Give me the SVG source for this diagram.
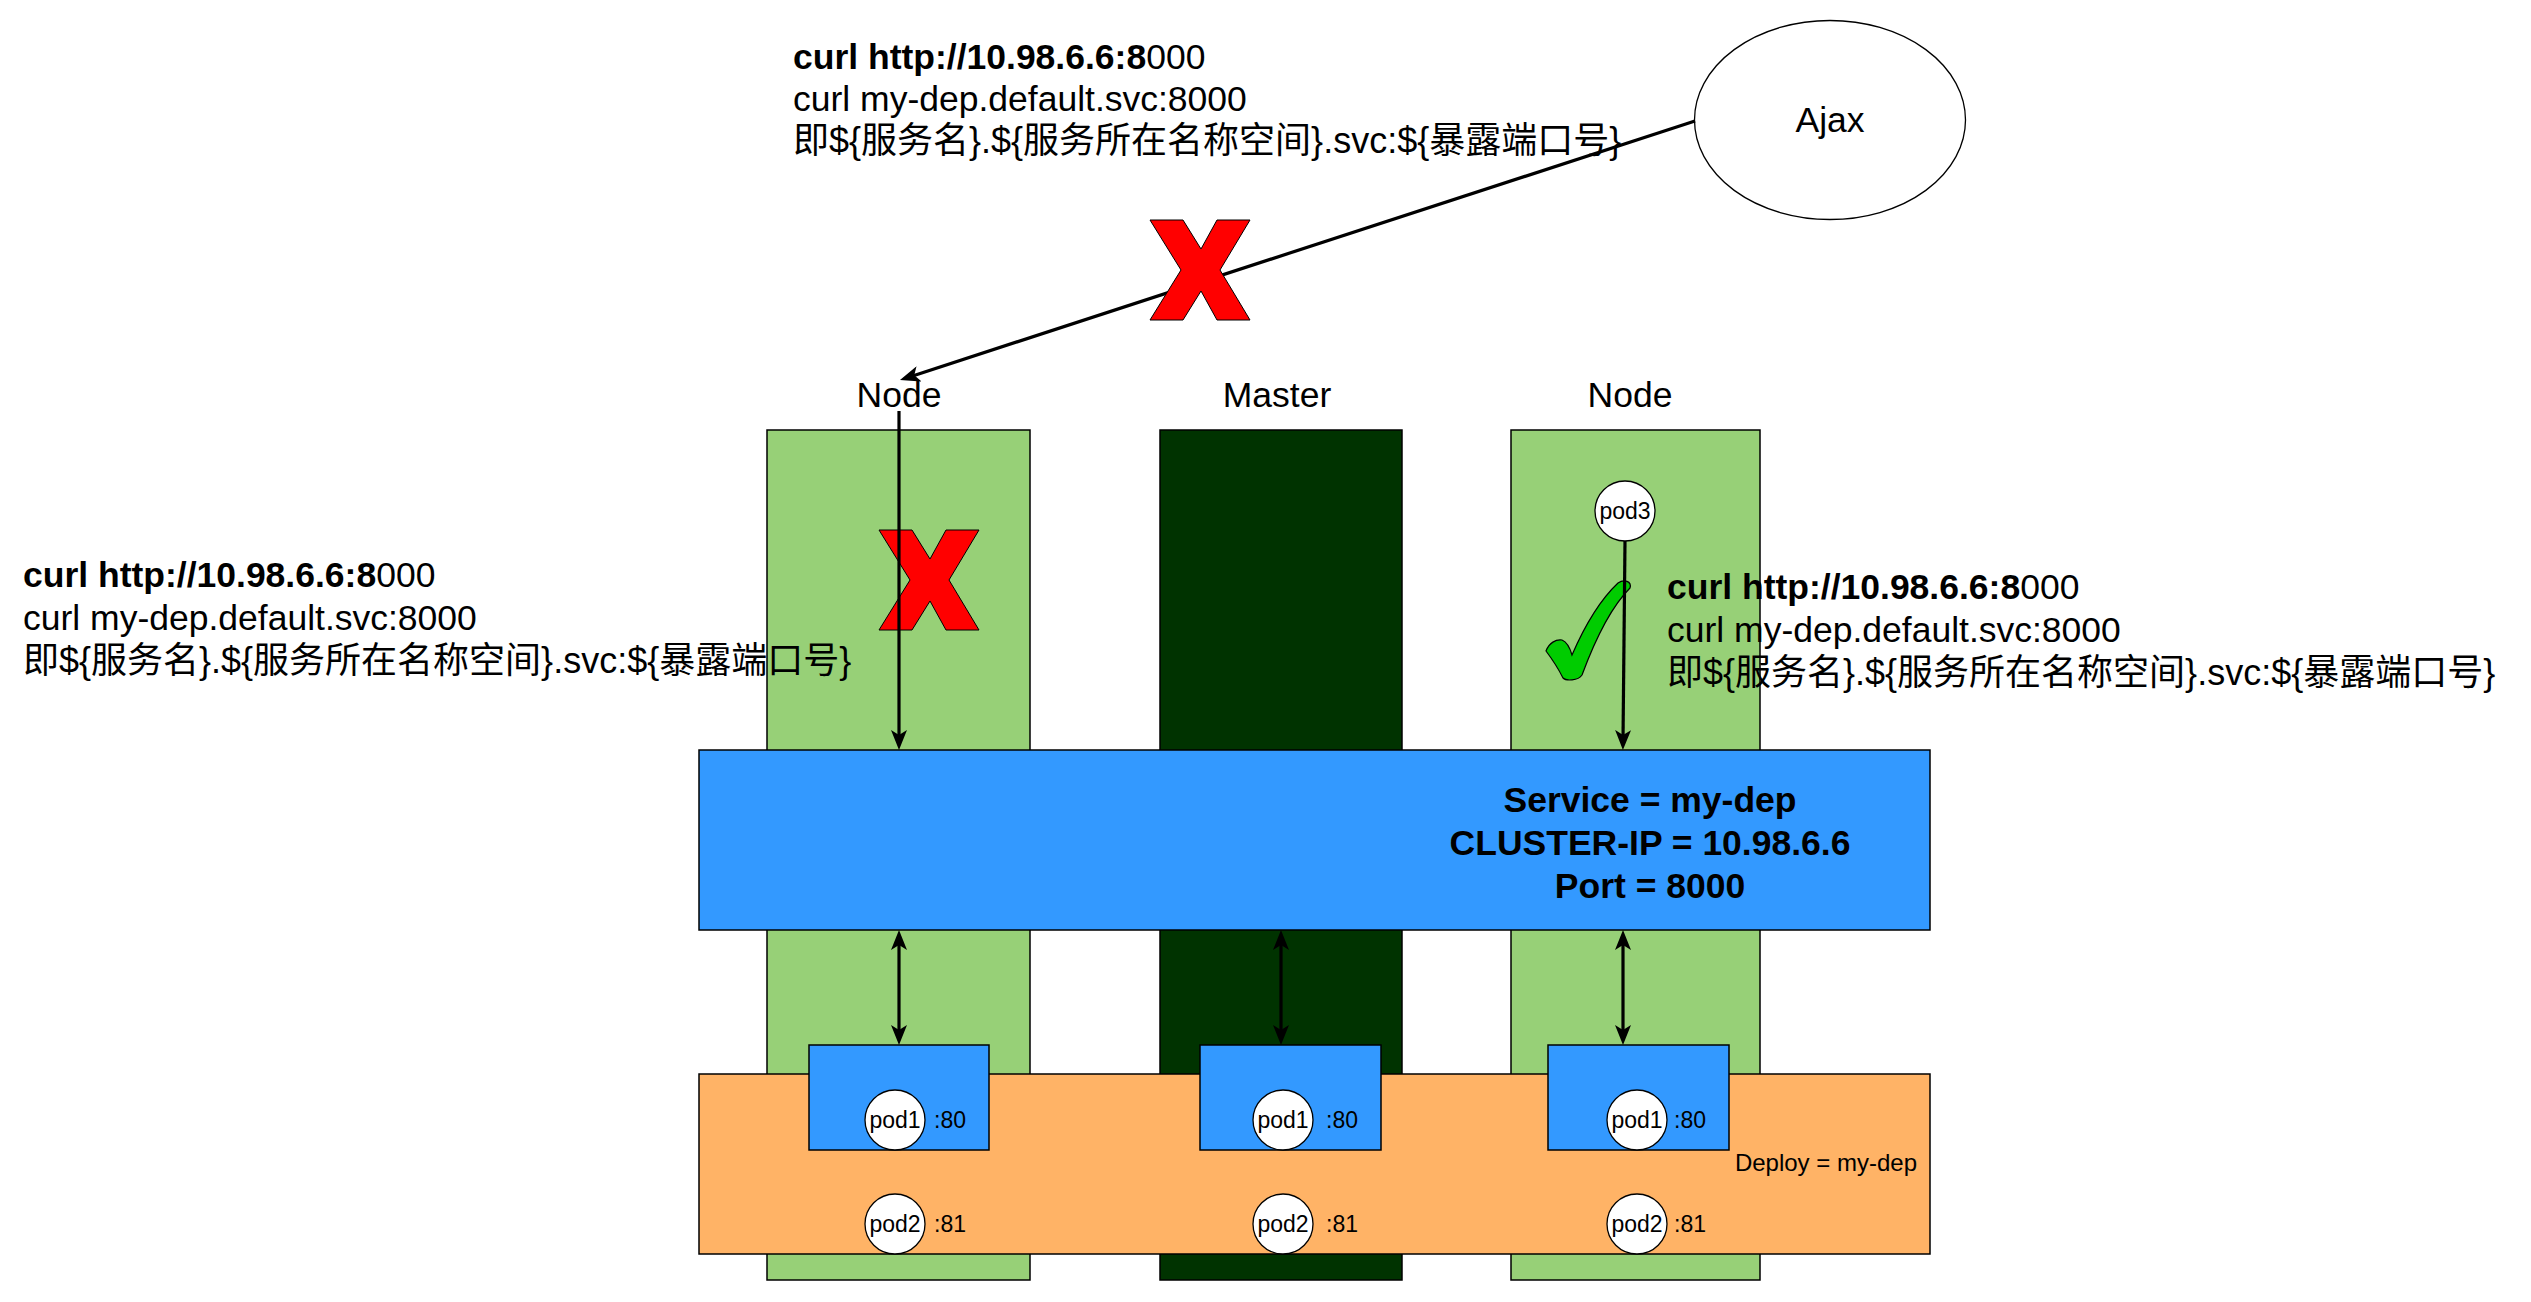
<svg xmlns="http://www.w3.org/2000/svg" width="2531" height="1302" viewBox="0 0 2531 1302">
<style>
text{font-family:"Liberation Sans","Noto Sans CJK SC",Arial,sans-serif;fill:#000}
.t{font-size:35.5px}
.cjk{font-size:36px}
.b{font-weight:bold}
.s{font-size:23px}
.col{stroke:#000;stroke-width:1.5}
.green{fill:#97D077}
.master{fill:#003300}
.blue{fill:#3399FF;stroke:#000;stroke-width:1.5}
.pod{fill:#fff;stroke:#000;stroke-width:1.3}
.ln{stroke:#000;stroke-width:3.2;fill:none}
.xmark{fill:#FF0000;stroke:#000;stroke-width:1}
</style>
<defs>
<marker id="arr" markerUnits="userSpaceOnUse" markerWidth="22" markerHeight="16" viewBox="0 0 22 16" refX="10" refY="8" orient="auto-start-reverse">
<path d="M0,0 L20,8 L0,16 L5,8 Z" fill="#000"/>
</marker>
<path id="xshape" d="M0,0 L33,0 L51,29 L67,0 L100,0 L70,50 L100,100 L67,100 L51,71 L33,100 L0,100 L31,50 Z"/>
</defs>
<rect width="2531" height="1302" fill="#fff"/>

<g id="node-left"><rect class="col green" x="767" y="430" width="263" height="850"/><text class="t" x="899" y="407" text-anchor="middle">Node</text></g>
<g id="master"><rect class="col master" x="1160" y="430" width="242" height="850"/><text class="t" x="1277" y="407" text-anchor="middle">Master</text></g>
<g id="node-right"><rect class="col green" x="1511" y="430" width="249" height="850"/><text class="t" x="1630" y="407" text-anchor="middle">Node</text></g>

<g id="service"><rect class="blue" x="699" y="750" width="1231" height="180"/>
<text class="t b" x="1650" y="812" text-anchor="middle">Service = my-dep</text>
<text class="t b" x="1650" y="855" text-anchor="middle">CLUSTER-IP = 10.98.6.6</text>
<text class="t b" x="1650" y="898" text-anchor="middle">Port = 8000</text></g>

<g id="deploy"><rect x="699" y="1074" width="1231" height="180" fill="#FFB366" stroke="#000" stroke-width="1.5"/>
<text x="1917" y="1171" text-anchor="end" font-size="24">Deploy = my-dep</text></g>

<g id="pods-left"><rect class="blue" x="809" y="1045" width="180" height="105"/>
<circle class="pod" cx="895" cy="1120" r="30"/><text class="s" x="895" y="1128" text-anchor="middle">pod1</text><text class="s" x="934" y="1128">:80</text>
<circle class="pod" cx="895" cy="1224" r="30"/><text class="s" x="895" y="1232" text-anchor="middle">pod2</text><text class="s" x="934" y="1232">:81</text></g>
<g id="pods-master"><rect class="blue" x="1200" y="1045" width="181" height="105"/>
<circle class="pod" cx="1283" cy="1120" r="30"/><text class="s" x="1283" y="1128" text-anchor="middle">pod1</text><text class="s" x="1326" y="1128">:80</text>
<circle class="pod" cx="1283" cy="1224" r="30"/><text class="s" x="1283" y="1232" text-anchor="middle">pod2</text><text class="s" x="1326" y="1232">:81</text></g>
<g id="pods-right"><rect class="blue" x="1548" y="1045" width="181" height="105"/>
<circle class="pod" cx="1637" cy="1120" r="30"/><text class="s" x="1637" y="1128" text-anchor="middle">pod1</text><text class="s" x="1674" y="1128">:80</text>
<circle class="pod" cx="1637" cy="1224" r="30"/><text class="s" x="1637" y="1232" text-anchor="middle">pod2</text><text class="s" x="1674" y="1232">:81</text></g>

<g id="pod3"><circle class="pod" cx="1625" cy="511" r="30"/><text class="s" x="1625" y="519" text-anchor="middle">pod3</text></g>

<g id="ajax"><ellipse cx="1830" cy="120" rx="135.5" ry="99.5" fill="#fff" stroke="#000" stroke-width="1.3"/><text class="t" x="1830" y="132" text-anchor="middle">Ajax</text></g>

<g id="text-top" class="t"><text x="793" y="69"><tspan class="b">curl http://10.98.6.6:8</tspan>000</text><text x="793" y="111">curl my-dep.default.svc:8000</text><text class="cjk" x="793" y="153">即${服务名}.${服务所在名称空间}.svc:${暴露端口号}</text></g>
<g id="text-left" class="t"><text x="23" y="587"><tspan class="b">curl http://10.98.6.6:8</tspan>000</text><text x="23" y="630">curl my-dep.default.svc:8000</text><text class="cjk" x="23" y="673">即${服务名}.${服务所在名称空间}.svc:${暴露端口号}</text></g>
<g id="text-right" class="t"><text x="1667" y="599"><tspan class="b">curl http://10.98.6.6:8</tspan>000</text><text x="1667" y="642">curl my-dep.default.svc:8000</text><text class="cjk" x="1667" y="685">即${服务名}.${服务所在名称空间}.svc:${暴露端口号}</text></g>

<g id="check"><path d="M1546,651 C1549,643 1556,639 1562,640 C1567,642 1570,648 1572,655 C1585,625 1600,600 1618,583 C1624,579 1632,581 1630,588 C1612,606 1595,640 1582,675 C1578,681 1566,681 1563,678 C1558,668 1552,659 1546,651 Z" fill="#00CC00" stroke="#000" stroke-width="1.2"/></g>

<g id="x-left"><use href="#xshape" class="xmark" transform="translate(879,530)"/></g>

<g id="connectors">
<line class="ln" x1="1695" y1="121" x2="909.5" y2="376.9" marker-end="url(#arr)"/>
<line class="ln" x1="899" y1="411" x2="899" y2="740" marker-end="url(#arr)"/>
<line class="ln" x1="1625" y1="541" x2="1623" y2="740" marker-end="url(#arr)"/>
<line class="ln" x1="899" y1="940" x2="899" y2="1035" marker-start="url(#arr)" marker-end="url(#arr)"/>
<line class="ln" x1="1281" y1="940" x2="1281" y2="1035" marker-start="url(#arr)" marker-end="url(#arr)"/>
<line class="ln" x1="1623" y1="940" x2="1623" y2="1035" marker-start="url(#arr)" marker-end="url(#arr)"/>
</g>

<g id="x-top"><use href="#xshape" class="xmark" transform="translate(1150,220)"/></g>
</svg>
